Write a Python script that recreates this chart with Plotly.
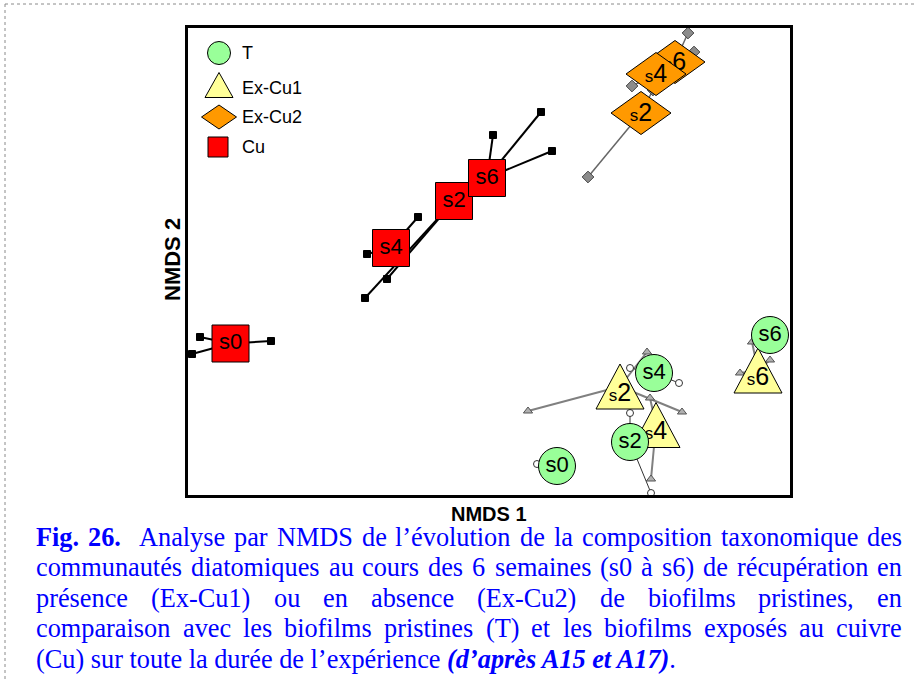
import plotly.graph_objects as go

# ---------------- data (NMDS plane, picture units, NMDS2 axis drawn downward) ----
t_weeks = ["s0", "s2", "s4", "s6"]
t_nmds1 = [557, 630, 654, 770]
t_nmds2 = [466, 442, 373, 335]
t_rep1 = [[537], [630, 651], [630, 679], []]
t_rep2 = [[464], [413, 493], [368, 383], []]

excu1_weeks = ["s2", "s4", "s6"]
excu1_nmds1 = [620, 656, 758]
excu1_nmds2 = [386.5, 425, 370.5]
excu1_rep1 = [[528, 682, 647], [650, 651], [740, 770, 752]]
excu1_rep2 = [[411, 412, 352], [398, 479], [373, 360, 342]]

excu2_weeks = ["s2", "s4", "s6"]
excu2_nmds1 = [641, 656, 675]
excu2_nmds2 = [113, 74, 62]
excu2_rep1 = [[588, 653], [632], [688, 694]]
excu2_rep2 = [[177, 90], [86], [33, 52]]

cu_weeks = ["s0", "s2", "s4", "s6"]
cu_nmds1 = [230.5, 454, 391, 487]
cu_nmds2 = [343.5, 201, 248, 178]
cu_rep1 = [[200, 192, 271], [365, 387], [418, 367], [493, 541, 552]]
cu_rep2 = [[337, 354, 341], [298, 279], [217, 254], [135, 112, 151]]

legend_labels = ["T", "Ex-Cu1", "Ex-Cu2", "Cu"]

caption_lines = [
    "Fig. 26.|Analyse par NMDS de l’évolution de la composition taxonomique des",
    "communautés diatomiques au cours des 6 semaines (s0 à s6) de récupération en",
    "présence (Ex-Cu1) ou en absence (Ex-Cu2) de biofilms pristines, en",
    "comparaison avec les biofilms pristines (T) et les biofilms exposés au cuivre",
]
caption_last = "(Cu) sur toute la durée de l’expérience <b><i>(d’après A15 et A17)</i></b>."

# ---------------- layout / style ----------------
FIG_W, FIG_H = 917, 682
X0, X1, Y0, Y1 = 188, 790, 28, 495
SANS = "Liberation Sans, Arial, sans-serif"
SERIF = "Liberation Serif, Times New Roman, serif"

GREEN, YELLOW, ORANGE, RED = "#99FF99", "#FFFF99", "#FF9900", "#FF0000"


def px_x(px):
    return (px - X0) / (X1 - X0)


def px_y(py):
    return (Y1 - py) / (Y1 - Y0)


def diamond(cx, cy, w, h):
    return ([cx - w / 2, cx, cx + w / 2, cx, cx - w / 2],
            [cy, cy - h / 2, cy, cy + h / 2, cy])


def triangle(cx, cy, w, h):
    return ([cx, cx + w / 2, cx - w / 2, cx],
            [cy - h / 2, cy + h / 2, cy + h / 2, cy - h / 2])


fig = go.Figure()


def spider(cx, cy, rx, ry, color, width, sym, msize, mfill, mline):
    xs, ys, px_, py_ = [], [], [], []
    for i in range(len(cx)):
        for a, b in zip(rx[i], ry[i]):
            xs += [cx[i], a, None]
            ys += [cy[i], b, None]
            px_.append(a)
            py_.append(b)
    fig.add_trace(go.Scatter(x=xs, y=ys, mode="lines",
                             line=dict(color=color, width=width), hoverinfo="skip"))
    fig.add_trace(go.Scatter(x=px_, y=py_, mode="markers",
                             marker=dict(symbol=sym, size=msize, color=mfill,
                                         line=dict(color=mline, width=1)),
                             hoverinfo="skip"))


spider(cu_nmds1, cu_nmds2, cu_rep1, cu_rep2, "black", 2, "square", 7, "black", "black")
spider(excu2_nmds1, excu2_nmds2, excu2_rep1, excu2_rep2, "#666666", 1.5, "diamond", 9, "#8c8c8c", "#444444")
spider(excu1_nmds1, excu1_nmds2, excu1_rep1, excu1_rep2, "#808080", 2, "triangle-up", 8, "#b0b0b0", "#555555")
spider(t_nmds1, t_nmds2, t_rep1, t_rep2, "#333333", 1, "circle", 7, "white", "#333333")


def label_trace(x, y, text, size=22):
    fig.add_trace(go.Scatter(x=[x], y=[y], mode="text", text=[text],
                             textposition="middle center", cliponaxis=False,
                             textfont=dict(family=SANS, size=size, color="black"),
                             hoverinfo="skip"))


def small_s(week, size=17):
    return '<span style="font-size:%dpx">s</span>%s' % (size, week[1:])


# Cu squares
fig.add_trace(go.Scatter(x=cu_nmds1, y=cu_nmds2, mode="markers+text", text=cu_weeks,
                         textposition="middle center",
                         textfont=dict(family=SANS, size=22, color="black"),
                         marker=dict(symbol="square", size=37, color=RED,
                                     line=dict(color="black", width=1)),
                         hoverinfo="skip"))

# Ex-Cu2 diamonds (drawn s6, s4, s2 so s4 covers s6)
for i in sorted(range(len(excu2_weeks)), key=lambda k: -int(excu2_weeks[k][1:])):
    xs, ys = diamond(excu2_nmds1[i], excu2_nmds2[i], 60, 43)
    fig.add_trace(go.Scatter(x=xs, y=ys, mode="lines", fill="toself", fillcolor=ORANGE,
                             line=dict(color="black", width=1), hoverinfo="skip"))
    label_trace(excu2_nmds1[i], excu2_nmds2[i] + 2, small_s(excu2_weeks[i]), 25)

# Ex-Cu1 triangles
for i in range(len(excu1_weeks)):
    xs, ys = triangle(excu1_nmds1[i], excu1_nmds2[i], 48, 45)
    fig.add_trace(go.Scatter(x=xs, y=ys, mode="lines", fill="toself", fillcolor=YELLOW,
                             line=dict(color="black", width=1), hoverinfo="skip"))
    label_trace(excu1_nmds1[i], excu1_nmds2[i] + 8, small_s(excu1_weeks[i]), 25)

# T circles
fig.add_trace(go.Scatter(x=t_nmds1, y=t_nmds2, mode="markers+text", text=t_weeks,
                         textposition="middle center",
                         textfont=dict(family=SANS, size=22, color="black"),
                         marker=dict(symbol="circle", size=37, color=GREEN,
                                     line=dict(color="black", width=1)),
                         hoverinfo="skip"))

# ---------------- legend (drawn inside the frame) ----------------
LEG_X, LEG_TX = 219, 242
LEG_Y = [53, 85, 117, 147]
fig.add_trace(go.Scatter(x=[LEG_X], y=[LEG_Y[0]], mode="markers",
                         marker=dict(symbol="circle", size=23, color=GREEN,
                                     line=dict(color="black", width=1)), hoverinfo="skip"))
xs, ys = triangle(LEG_X, LEG_Y[1], 28, 25)
fig.add_trace(go.Scatter(x=xs, y=ys, mode="lines", fill="toself", fillcolor=YELLOW,
                         line=dict(color="black", width=1), hoverinfo="skip"))
xs, ys = diamond(LEG_X, LEG_Y[2], 35, 24)
fig.add_trace(go.Scatter(x=xs, y=ys, mode="lines", fill="toself", fillcolor=ORANGE,
                         line=dict(color="black", width=1), hoverinfo="skip"))
fig.add_trace(go.Scatter(x=[LEG_X - 1], y=[LEG_Y[3]], mode="markers",
                         marker=dict(symbol="square", size=20, color=RED,
                                     line=dict(color="black", width=1)), hoverinfo="skip"))

annotations = []
for lab, yy in zip(legend_labels, [53, 88, 117, 147]):
    annotations.append(dict(x=px_x(LEG_TX), y=px_y(yy), xref="paper", yref="paper",
                            text=lab, showarrow=False, xanchor="left", yanchor="middle",
                            font=dict(family=SANS, size=18, color="black"),
                            borderpad=0, borderwidth=0))

# axis titles
annotations.append(dict(x=px_x(489), y=px_y(514), xref="paper", yref="paper",
                        text="<b>NMDS 1</b>", showarrow=False, xanchor="center", yanchor="middle",
                        font=dict(family=SANS, size=20, color="black"),
                        borderpad=0, borderwidth=0))
annotations.append(dict(x=px_x(172), y=px_y(260), xref="paper", yref="paper",
                        text="<b>NMDS 2</b>", showarrow=False, xanchor="center", yanchor="middle",
                        textangle=-90, font=dict(family=SANS, size=22, color="black")))

# ---------------- caption (justified word by word) ----------------
CAP_SIZE = 26.3
CAP_LEFT, CAP_RIGHT = 36, 902
CAP_Y = [537, 567.5, 598, 628.5, 659]
CAP_COLOR = "#0000FF"

R_W = dict(zip("abcdefghijklmnopqrstuvwxyz",
               [444, 500, 444, 500, 444, 333, 500, 500, 278, 278, 500, 278, 778,
                500, 500, 500, 500, 333, 389, 278, 500, 500, 722, 500, 500, 444]))
R_W.update(dict(zip("ABCDEFGHIJKLMNOPQRSTUVWXYZ",
                    [722, 667, 667, 722, 611, 556, 722, 722, 333, 389, 722, 611, 889,
                     722, 722, 556, 722, 667, 556, 611, 722, 722, 944, 722, 722, 611])))
R_W.update({c: 500 for c in "0123456789"})
R_W.update({"(": 333, ")": 333, ",": 250, ".": 250, "-": 333, "’": 333,
            "é": 444, "è": 444, "à": 444, " ": 250})
B_W = dict(R_W)
B_W.update({"F": 611})


def wwidth(word, table):
    return sum(table.get(c, 500) for c in word) * CAP_SIZE / 1000.0


for li, line in enumerate(caption_lines):
    items = []  # (text, bold, gap_after_weight)
    if "|" in line:
        bold_part, rest = line.split("|")
        bw = bold_part.split(" ")
        for k, w in enumerate(bw):
            items.append([w, True, 1 if k < len(bw) - 1 else 2])
        line = rest
    for w in line.split(" "):
        items.append([w, False, 1])
    items[-1][2] = 0
    total = sum(wwidth(t, B_W if b else R_W) for t, b, g in items)
    units = sum(g for t, b, g in items)
    space = (CAP_RIGHT - CAP_LEFT - total) / units
    x = CAP_LEFT
    for k, (t, b, g) in enumerate(items):
        last = k == len(items) - 1
        annotations.append(dict(
            x=px_x(CAP_RIGHT if last else x), y=px_y(CAP_Y[li]), xref="paper", yref="paper",
            text=("<b>%s</b>" % t) if b else t, showarrow=False,
            xanchor="right" if last else "left", yanchor="middle",
            font=dict(family=SERIF, size=CAP_SIZE, color=CAP_COLOR),
            borderpad=0, borderwidth=0))
        x += wwidth(t, B_W if b else R_W) + space * g

annotations.append(dict(x=px_x(CAP_LEFT), y=px_y(CAP_Y[4]), xref="paper", yref="paper",
                        text=caption_last, showarrow=False, xanchor="left", yanchor="middle",
                        font=dict(family=SERIF, size=CAP_SIZE, color=CAP_COLOR),
                        borderpad=0, borderwidth=0))

# dotted page border (top and left)
shapes = [
    dict(type="line", xref="paper", yref="paper", x0=px_x(5), x1=px_x(917), y0=px_y(4), y1=px_y(4),
         line=dict(color="#8a8a8a", width=1, dash="dot")),
    dict(type="line", xref="paper", yref="paper", x0=px_x(5), x1=px_x(5), y0=px_y(4), y1=px_y(682),
         line=dict(color="#8a8a8a", width=1, dash="dot")),
]

axis_common = dict(showgrid=False, zeroline=False, showticklabels=False, ticks="",
                   showline=True, mirror=True, linewidth=3, linecolor="black", fixedrange=True)

fig.update_layout(
    width=FIG_W, height=FIG_H, autosize=False,
    margin=dict(l=X0, r=FIG_W - X1, t=Y0, b=FIG_H - Y1, pad=0),
    paper_bgcolor="white", plot_bgcolor="white",
    showlegend=False,
    xaxis=dict(range=[X0, X1], **axis_common),
    yaxis=dict(range=[Y1, Y0], **axis_common),
    annotations=annotations,
    shapes=shapes,
)

fig.write_html("out.html", config={"displayModeBar": False},
               post_script="document.body.style.margin='0';document.body.style.overflow='hidden';")
